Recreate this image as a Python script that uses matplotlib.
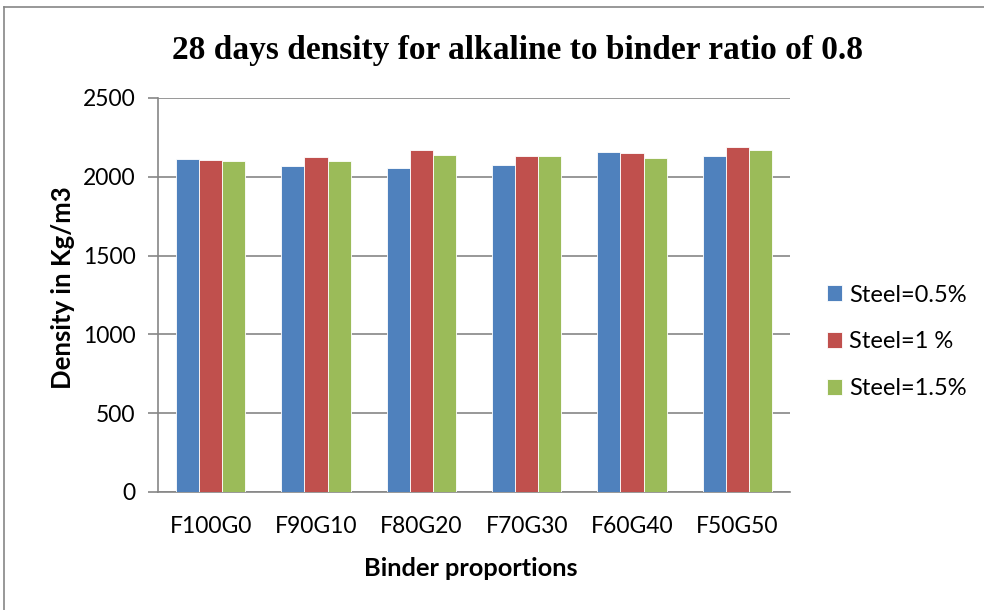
import matplotlib
matplotlib.use("Agg")
import matplotlib.pyplot as plt
import numpy as np
from matplotlib.lines import Line2D

categories = ["F100G0", "F90G10", "F80G20", "F70G30", "F60G40", "F50G50"]
steel_05 = [2110, 2070, 2053, 2074, 2155, 2131]
steel_1 = [2106, 2127, 2167, 2135, 2150, 2188]
steel_15 = [2098, 2098, 2138, 2131, 2118, 2167]
series_labels = ["Steel=0.5%", "Steel=1 %", "Steel=1.5%"]
colors = ["#4F81BD", "#C0504D", "#9BBB59"]
yticks = [0, 500, 1000, 1500, 2000, 2500]

W, H = 984, 610
fig = plt.figure(figsize=(W / 100, H / 100), dpi=100)
ax = fig.add_axes([158 / W, 1 - 492 / H, (790 - 158) / W, (492 - 98) / H])

x = np.arange(len(categories))
bw = 0.22
for i, (vals, lab, c) in enumerate(zip([steel_05, steel_1, steel_15], series_labels, colors)):
    ax.bar(x + (i - 1) * bw, vals, width=bw, color=c, label=lab,
           edgecolor="white", linewidth=0.6, zorder=3)

ax.set_xlim(-0.5, len(categories) - 0.5)
ax.set_ylim(0, 2500)
ax.set_yticks(yticks)
ax.set_xticks(x)
ax.set_xticklabels(categories)
ax.yaxis.grid(True, color="#868686", linewidth=1.2, zorder=0)
for s in ["top", "right"]:
    ax.spines[s].set_visible(False)
for s in ["left", "bottom"]:
    ax.spines[s].set_color("#868686")
    ax.spines[s].set_linewidth(1.2)
ax.tick_params(axis="y", length=7, color="#868686", width=1.2, pad=9, labelsize=16.5)
ax.tick_params(axis="x", length=0, pad=17, labelsize=16.5)
for t in ax.get_xticklabels() + ax.get_yticklabels():
    t.set_fontfamily("Lato")

fig.text(63 / W, 1 - 288 / H, "Density in Kg/m3", fontfamily="Lato", fontweight="bold",
         fontsize=18.5, rotation=90, ha="center", va="center")
fig.text(471 / W, 1 - 568 / H, "Binder proportions", fontfamily="Lato", fontweight="bold",
         fontsize=18.3, ha="center", va="center")

fig.text(518 / W, 1 - 50 / H, "28 days density for alkaline to binder ratio of 0.8",
         fontfamily="Liberation Serif", fontweight="bold", fontsize=24,
         ha="center", va="center")

leg = ax.legend(loc="center left", bbox_to_anchor=(827 / W, 1 - 342 / H),
                bbox_transform=fig.transFigure, frameon=False,
                borderpad=0, borderaxespad=0,
                prop={"family": "Lato", "size": 17}, handlelength=0.65,
                handleheight=0.65, handletextpad=0.3, labelspacing=1.1)

# outer chart border: only top and left edges are visible in the reference
fig.add_artist(Line2D([4 / W, 4 / W], [0, 1 - 7 / H], transform=fig.transFigure,
                      color="#868686", linewidth=1.2))
fig.add_artist(Line2D([4 / W, 1], [1 - 7 / H, 1 - 7 / H], transform=fig.transFigure,
                      color="#868686", linewidth=1.2))

fig.savefig("out.png", dpi=100)
